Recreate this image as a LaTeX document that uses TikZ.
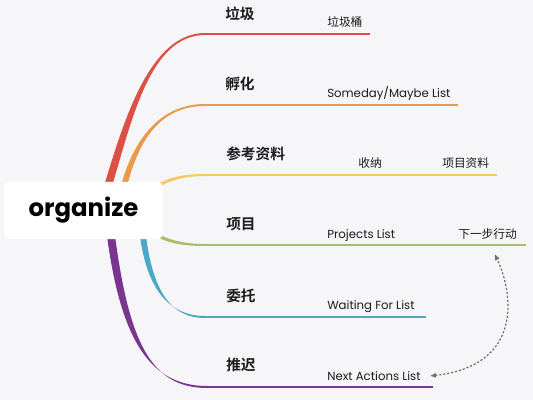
\documentclass[tikz,border=0pt]{standalone}
\usepackage{fontspec}
\setmainfont{Poppins}
\newfontfamily\cjk{Noto Sans CJK SC}[BoldFont={Noto Sans CJK SC Bold}]
\usetikzlibrary{arrows.meta,positioning,calc}
\definecolor{canvas}{HTML}{F6F6F9}
\definecolor{ink}{HTML}{1C1C1C}
\definecolor{neutral}{HTML}{6E6E6E}
\definecolor{cTrash}{HTML}{DC5143}
\definecolor{cIncubate}{HTML}{E99A4A}
\definecolor{cRefer}{HTML}{F4CB62}
\definecolor{cProject}{HTML}{A5BF66}
\definecolor{cDelegate}{HTML}{4BA9C8}
\definecolor{cDefer}{HTML}{7A358F}
\tikzset{
  rootbox/.style={fill=white, rounded corners=4pt, minimum width=119pt,
    minimum height=43pt, inner sep=0pt, font=\bfseries\fontsize{18.3}{21}\selectfont, text=black},
  topic/.style={anchor=west, inner sep=0pt, text height=0.8em, text depth=0.2em,
    font=\cjk\bfseries\fontsize{11}{13}\selectfont, text=ink},
  leaf/.style={anchor=west, inner sep=0pt, text height=0.8em, text depth=0.2em,
    font=\fontsize{8.8}{10}\selectfont, text=ink},
  cjkleaf/.style={leaf, font=\cjk\fontsize{8.8}{10}\selectfont},
  twig/.style={line width=1.5pt},
  link/.style={{Latex[length=1.6mm,width=1.4mm]}-{Latex[length=1.6mm,width=1.4mm]},
    dash pattern=on 1.6pt off 1.4pt, line width=0.9pt, draw=neutral}
}
% tapered branch: colour, start, control 1, control 2, junction, half width at start
\newcommand{\limb}[6]{%
  \fill[#1] ($(#2)-#6$) .. controls ($#3-#6$) and ($#4+(0,-1)$) .. ($(#5)+(0,-1)$)
    -- ($(#5)+(0,1)$) .. controls ($#4+(0,1)$) and ($#3+#6$) .. ($(#2)+#6$) -- cycle;}

\begin{document}
\begin{tikzpicture}[x=0.75pt, y=-0.75pt]
  \fill[canvas] (0,0) rectangle (533,400);
  \useasboundingbox (0,0) rectangle (533,400);

  % branch starts, junctions and ends
  \coordinate (s1) at (108,186); \coordinate (j1) at (205,34);  \coordinate (e1) at (370,34);
  \coordinate (s2) at (124,186); \coordinate (j2) at (205,105); \coordinate (e2) at (458,105);
  \coordinate (s3) at (140,196); \coordinate (j3) at (207,175); \coordinate (e3) at (497,175);
  \coordinate (s4) at (140,226); \coordinate (j4) at (207,245); \coordinate (e4) at (526,245);
  \coordinate (s5) at (143,236); \coordinate (j5) at (205,317); \coordinate (e5) at (426,317);
  \coordinate (s6) at (111,236); \coordinate (j6) at (207,387); \coordinate (e6) at (433,387);

  \limb{cTrash}{s1}{(128,120)}{(150,34)}{j1}{(4,0)}
  \limb{cIncubate}{s2}{(136,140)}{(160,105)}{j2}{(3,0)}
  \limb{cRefer}{s3}{(165,180)}{(178,175)}{j3}{(0,2)}
  \limb{cProject}{s4}{(165,241)}{(178,245)}{j4}{(0,2)}
  \limb{cDelegate}{s5}{(150,290)}{(170,317)}{j5}{(3,0)}
  \limb{cDefer}{s6}{(125,340)}{(150,387)}{j6}{(4,0)}
  \draw[twig, cTrash] (j1) -- (e1);
  \draw[twig, cIncubate] (j2) -- (e2);
  \draw[twig, cRefer] (j3) -- (e3);
  \draw[twig, cProject] (j4) -- (e4);
  \draw[twig, cDelegate] (j5) -- (e5);
  \draw[twig, cDefer] (j6) -- (e6);

  \node[rootbox] (root) at (83.5,210.5) {organize};

  \node[topic] (trash) at (225,15) {垃圾};
  \node[cjkleaf] (bin) at (327,22) {垃圾桶};
  \node[topic] (incubate) at (225,85) {孵化};
  \node[leaf] (someday) at (327,93) {Someday/Maybe List};
  \node[topic] (refer) at (226,155) {参考资料};
  \node[cjkleaf] (store) at (358,163) {收纳};
  \node[cjkleaf] (material) at (442,163) {项目资料};
  \node[topic] (project) at (226,225) {项目};
  \node[leaf] (projlist) at (327,234) {Projects List};
  \node[cjkleaf] (nextstep) at (458,234) {下一步行动};
  \node[topic] (delegate) at (226,297) {委托};
  \node[leaf] (waiting) at (327,305) {Waiting For List};
  \node[topic] (defer) at (226,366) {推迟};
  \node[leaf] (nextlist) at (327,376) {Next Actions List};

  \draw[link] ($(nextlist.east)+(9,0)$) .. controls (526,365) and (512,290) .. ($(nextstep.south)+(7,13)$);
\end{tikzpicture}
\end{document}
